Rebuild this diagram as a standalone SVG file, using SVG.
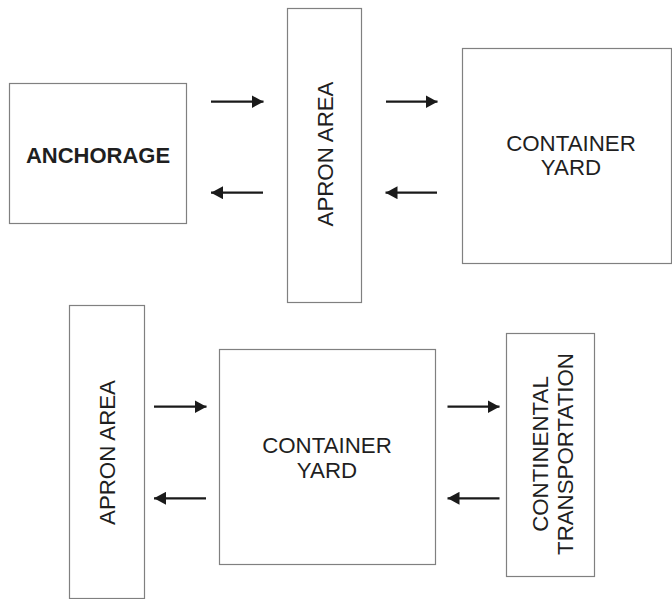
<svg xmlns="http://www.w3.org/2000/svg" width="672" height="599" viewBox="0 0 672 599">
  <defs>
    <marker id="head" viewBox="0 0 12 13" refX="12" refY="6.5" markerWidth="12" markerHeight="13" markerUnits="userSpaceOnUse" orient="auto">
      <path d="M0,0 L12,6.5 L0,13 Z" fill="#1a1a1a"/>
    </marker>
  </defs>
  <style>
    .box { fill: #ffffff; stroke: #808080; stroke-width: 1.2; }
    .lbl { font-family: "Liberation Sans", Arial, sans-serif; font-size: 22.3px; fill: #1f1f1f; text-anchor: middle; }
    .bold { font-weight: bold; font-size: 22px; }
    .arrow { stroke: #1a1a1a; stroke-width: 2.2; fill: none; marker-end: url(#head); }
  </style>
  <rect width="672" height="599" fill="#ffffff"/>

  <!-- upper flow: anchorage, apron area, container yard -->
  <g id="anchorage">
    <rect class="box" x="9.5" y="83.5" width="177" height="140"/>
    <text class="lbl bold" x="98" y="163">ANCHORAGE</text>
  </g>
  <g id="apron-top">
    <rect class="box" x="287.5" y="8.5" width="74" height="294"/>
    <text class="lbl" transform="translate(333,154) rotate(-90)">APRON AREA</text>
  </g>
  <g id="yard-top">
    <rect class="box" x="462.5" y="48.5" width="209" height="215"/>
    <text class="lbl" x="571" y="151">CONTAINER</text>
    <text class="lbl" x="571" y="175">YARD</text>
  </g>

  <!-- lower flow: apron area, container yard, continental transportation -->
  <g id="apron-bottom">
    <rect class="box" x="69.5" y="305.5" width="75" height="293"/>
    <text class="lbl" transform="translate(115,452.5) rotate(-90)">APRON AREA</text>
  </g>
  <g id="yard-bottom">
    <rect class="box" x="219.5" y="349.5" width="216" height="215"/>
    <text class="lbl" x="327" y="453">CONTAINER</text>
    <text class="lbl" x="327" y="477.5">YARD</text>
  </g>
  <g id="continental">
    <rect class="box" x="506.5" y="333.5" width="88" height="243"/>
    <text class="lbl" transform="translate(547.5,454) rotate(-90)">CONTINENTAL</text>
    <text class="lbl" transform="translate(572.5,454) rotate(-90)">TRANSPORTATION</text>
  </g>

  <g id="connectors">
    <line class="arrow" x1="211" y1="101.7" x2="263.5" y2="101.7"/>
    <line class="arrow" x1="263" y1="192.7" x2="211" y2="192.7"/>
    <line class="arrow" x1="386" y1="101.7" x2="437.5" y2="101.7"/>
    <line class="arrow" x1="437" y1="192.7" x2="385.5" y2="192.7"/>
    <line class="arrow" x1="154" y1="406.7" x2="206.5" y2="406.7"/>
    <line class="arrow" x1="206" y1="498.3" x2="154" y2="498.3"/>
    <line class="arrow" x1="447.5" y1="406.7" x2="499.5" y2="406.7"/>
    <line class="arrow" x1="499.5" y1="498.3" x2="447.5" y2="498.3"/>
  </g>
</svg>
